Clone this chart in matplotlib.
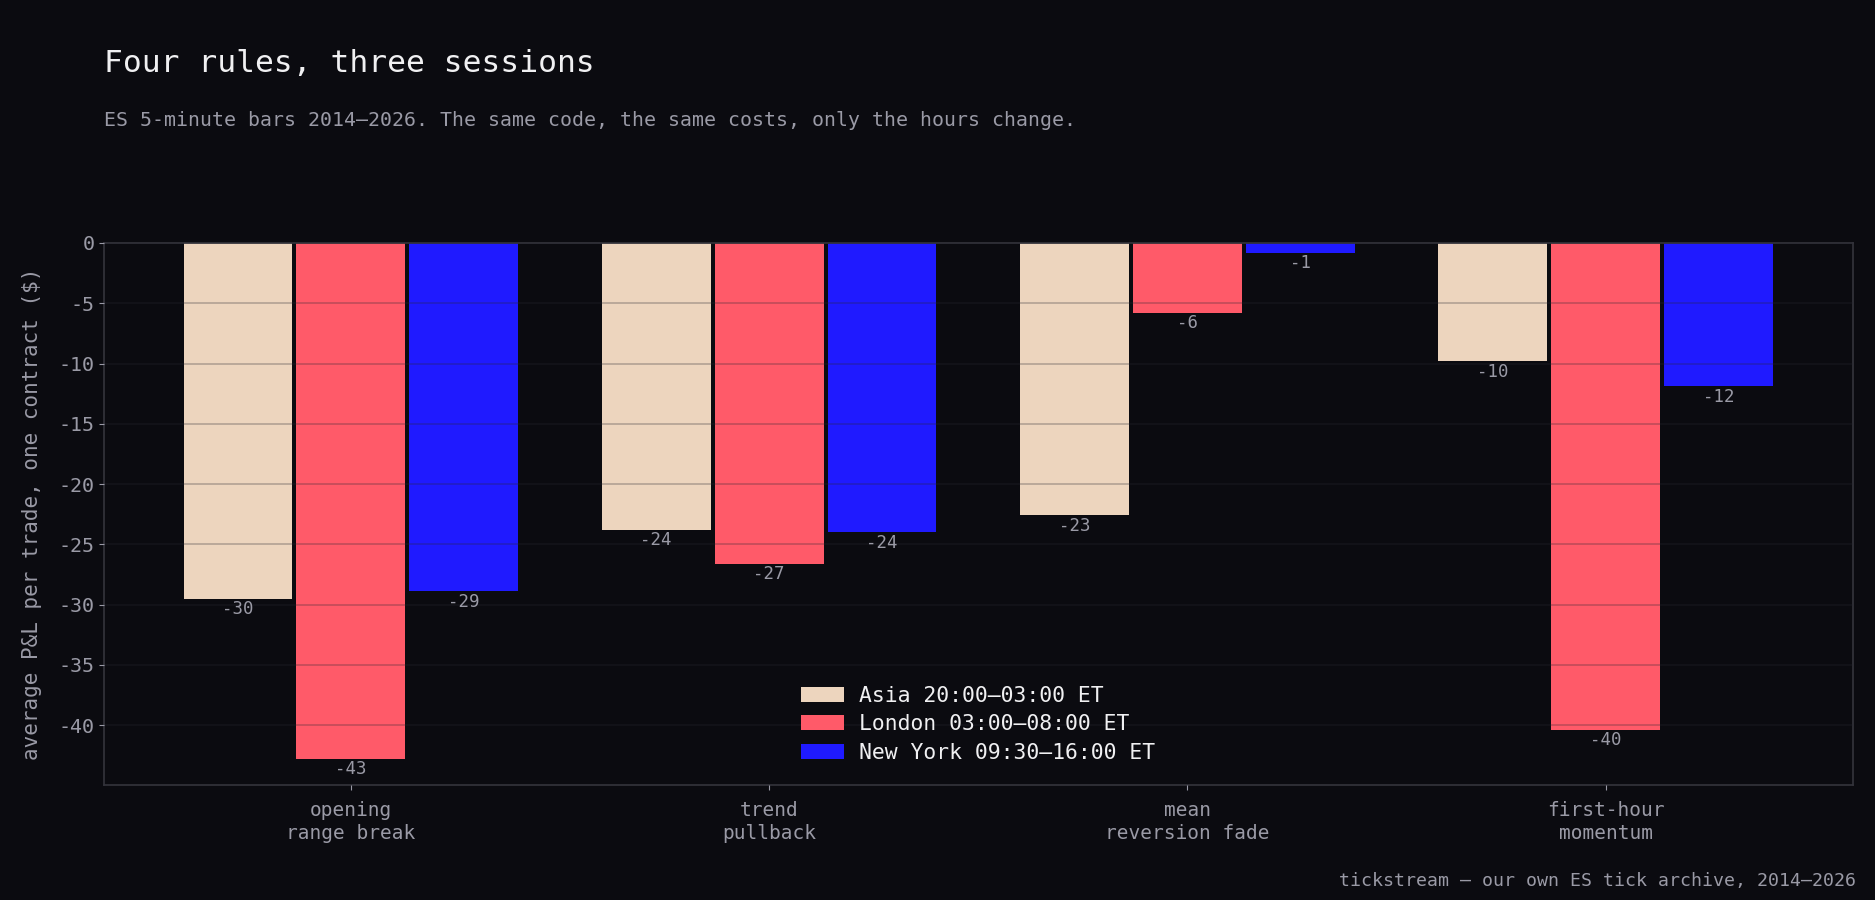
import matplotlib
matplotlib.use('Agg')
import matplotlib.pyplot as plt
import numpy as np

# ==============================
# data
# ==============================

RULES = ['opening\nrange break', 'trend\npullback', 'mean\nreversion fade', 'first-hour\nmomentum']
SESSIONS = ['Asia 20:00\u201303:00 ET', 'London 03:00\u201308:00 ET', 'New York 09:30\u201316:00 ET']
ASIA = [-29.5, -23.8, -22.6, -9.8]
LONDON = [-42.8, -26.6, -5.8, -40.4]
NEW_YORK = [-28.9, -24.0, -0.8, -11.9]

COLORS = ['#edd5be', '#ff5a69', '#1f1aff']
BG = '#0b0b10'
TEXT = '#f0f0f2'
MUTED = '#9a9aa6'
SPINE = '#34343c'

plt.rcParams['font.family'] = ['DejaVu Sans Mono']
plt.rcParams['axes.unicode_minus'] = False

fig, ax = plt.subplots(figsize=(18.75, 9), dpi=100, facecolor=BG)
ax.set_facecolor(BG)
fig.subplots_adjust(left=0.0555, right=0.988, top=0.73, bottom=0.128)

x = np.arange(len(RULES))
width = 0.26
step = 0.27
series = [ASIA, LONDON, NEW_YORK]
for i, (vals, name, col) in enumerate(zip(series, SESSIONS, COLORS)):
    bars = ax.bar(x + (i - 1) * step, vals, width, color=col, label=name, zorder=1)
    ax.bar_label(bars, labels=[f'{v:.0f}' for v in vals], padding=1,
                 color=MUTED, fontsize=12.5)

# grid sits over the bars, faint
ax.set_axisbelow(False)
ax.yaxis.grid(True, color='#282832', alpha=0.3, linewidth=1.2, zorder=2)
ax.xaxis.grid(False)

ax.set_xticks(x)
ax.set_xticklabels(RULES, fontsize=14, color=MUTED, linespacing=1.25)
ax.tick_params(axis='y', labelsize=14.4, labelcolor=MUTED, color=MUTED)
ax.tick_params(axis='x', color=MUTED, pad=8)
ax.set_ylabel('average P&L per trade, one contract ($)', fontsize=15, color=MUTED, labelpad=12)

for s in ax.spines.values():
    s.set_color(SPINE)
    s.set_linewidth(1.2)

leg = ax.legend(loc='lower center', frameon=False, fontsize=15.4, labelcolor=TEXT,
                handlelength=2.0, labelspacing=0.4, handletextpad=0.7,
                bbox_to_anchor=(0.5, 0.005))

fig.text(104 / 1875, 1 - 63 / 900, 'Four rules, three sessions', fontsize=22.5,
         color=TEXT, va='center', ha='left')
fig.text(104 / 1875, 1 - 120 / 900,
         'ES 5-minute bars 2014\u20132026. The same code, the same costs, only the hours change.',
         fontsize=14.3, color=MUTED, va='center', ha='left')
fig.text(0.99, 1 - 881 / 900, 'tickstream \u2014 our own ES tick archive, 2014\u20132026',
         fontsize=13.15, color=MUTED, va='center', ha='right')

fig.savefig('out.png', dpi=100, facecolor=BG)
